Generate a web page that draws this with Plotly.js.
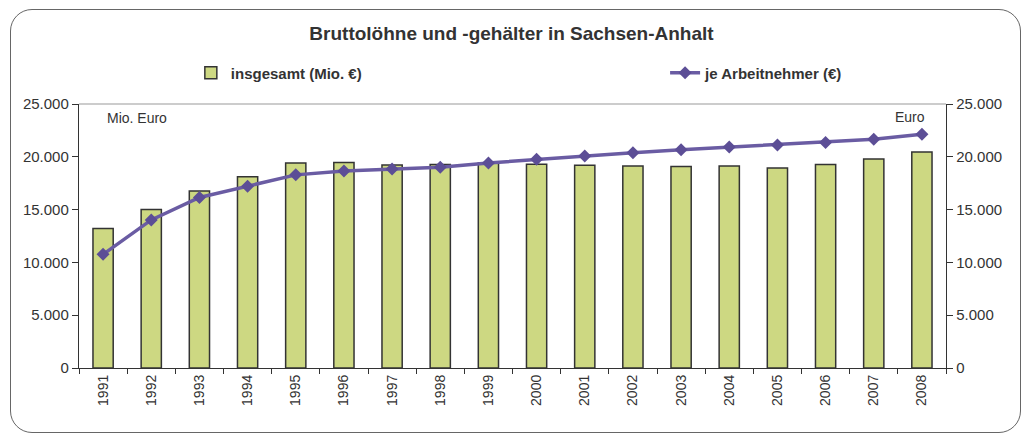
<!DOCTYPE html>
<html>
<head>
<meta charset="utf-8">
<script src="https://cdn.plot.ly/plotly-3.0.1.min.js"></script>
<style>
  html, body { margin: 0; padding: 0; background: #fff; }
  #wrap { position: relative; width: 1023px; height: 435px; overflow: hidden; }
  #chart { position: absolute; left: 0; top: 0; width: 1023px; height: 435px; }
  #frame { position: absolute; left: 10px; top: 9px; width: 1011px; height: 424px;
           border: 1.5px solid #666; border-radius: 22px; pointer-events: none; box-sizing: border-box; }
</style>
</head>
<body>
<div id="wrap">
  <div id="chart"></div>
  <div id="frame"></div>
</div>
<script>
// Data
const years = ['1991','1992','1993','1994','1995','1996','1997','1998','1999','2000',
               '2001','2002','2003','2004','2005','2006','2007','2008'];
const insgesamt = [13200, 15000, 16750, 18100, 19420, 19470, 19230, 19280, 19420, 19300,
                   19200, 19130, 19070, 19130, 18950, 19260, 19790, 20450];
const jeArbeitnehmer = [10760, 14020, 16150, 17220, 18290, 18660, 18850, 19000, 19420, 19760,
                        20070, 20390, 20670, 20920, 21110, 21350, 21670, 22140];
const yTicks = [0, 5000, 10000, 15000, 20000, 25000];

const fontFam = 'Arial, "Liberation Sans", sans-serif';

const traces = [
  {
    type: 'bar', x: years, y: insgesamt, name: 'insgesamt (Mio. €)',
    marker: { color: '#cdd882', line: { color: '#333', width: 1.5 } },
    yaxis: 'y', legend: 'legend', hoverinfo: 'skip'
  },
  {
    type: 'scatter', mode: 'lines+markers', x: years, y: jeArbeitnehmer, name: 'je Arbeitnehmer (€)',
    line: { color: '#6a5ca3', width: 3.5 },
    marker: { symbol: 'diamond', size: 10, color: '#5c4e96' },
    yaxis: 'y2', legend: 'legend2', hoverinfo: 'skip'
  }
];

const legendFont = { size: 15, color: '#333', family: fontFam, weight: 'bold' };

const layout = {
  width: 1023, height: 435,
  margin: { l: 79, r: 77, t: 104, b: 67 },
  paper_bgcolor: 'rgba(0,0,0,0)', plot_bgcolor: '#fff',
  separators: ',.',
  font: { family: fontFam, color: '#333', size: 14 },
  showlegend: true,
  title: {
    text: '<b>Bruttolöhne und -gehälter in Sachsen-Anhalt</b>',
    font: { size: 19, color: '#333', family: fontFam },
    x: 0.5, xref: 'container', y: 1 - 33/435, yref: 'container', yanchor: 'middle'
  },
  legend: {
    orientation: 'h', x: 0.129, xanchor: 'left', y: 1.117, yanchor: 'middle',
    font: legendFont, bgcolor: 'rgba(0,0,0,0)'
  },
  legend2: {
    orientation: 'h', x: 0.676, xanchor: 'left', y: 1.117, yanchor: 'middle',
    font: legendFont, bgcolor: 'rgba(0,0,0,0)'
  },
  bargap: 0.58,
  xaxis: {
    type: 'category', range: [-0.5, 17.5], tickangle: -90, tickson: 'boundaries',
    ticks: 'outside', ticklen: 5, tickcolor: '#333',
    showline: true, linecolor: '#333', linewidth: 1.2,
    showgrid: false, zeroline: false, fixedrange: true,
    tickfont: { size: 14, color: '#333' }
  },
  yaxis: {
    range: [0, 25000], tickvals: yTicks, tickformat: ',d',
    ticks: 'outside', ticklen: 6, tickcolor: '#333',
    showline: true, linecolor: '#333', linewidth: 1.2,
    showgrid: false, zeroline: false, fixedrange: true,
    tickfont: { size: 15, color: '#333' }
  },
  yaxis2: {
    range: [0, 25000], tickvals: yTicks, tickformat: ',d',
    overlaying: 'y', side: 'right',
    ticks: 'outside', ticklen: 6, tickcolor: '#333',
    showline: true, linecolor: '#333', linewidth: 1.2,
    showgrid: false, zeroline: false, fixedrange: true,
    tickfont: { size: 15, color: '#333' }
  },
  shapes: [
    { type: 'line', xref: 'paper', yref: 'paper', x0: 0, x1: 1, y0: 1, y1: 1,
      line: { color: '#999', width: 1 } }
  ],
  annotations: [
    { text: 'Mio. Euro', xref: 'paper', yref: 'paper', x: 0.030, y: 0.947,
      xanchor: 'left', yanchor: 'middle', showarrow: false, font: { size: 14, color: '#333' } },
    { text: 'Euro', xref: 'paper', yref: 'paper', x: 0.978, y: 0.951,
      xanchor: 'right', yanchor: 'middle', showarrow: false, font: { size: 14, color: '#333' } }
  ]
};

Plotly.newPlot('chart', traces, layout, { staticPlot: true, displayModeBar: false });
</script>
</body>
</html>
